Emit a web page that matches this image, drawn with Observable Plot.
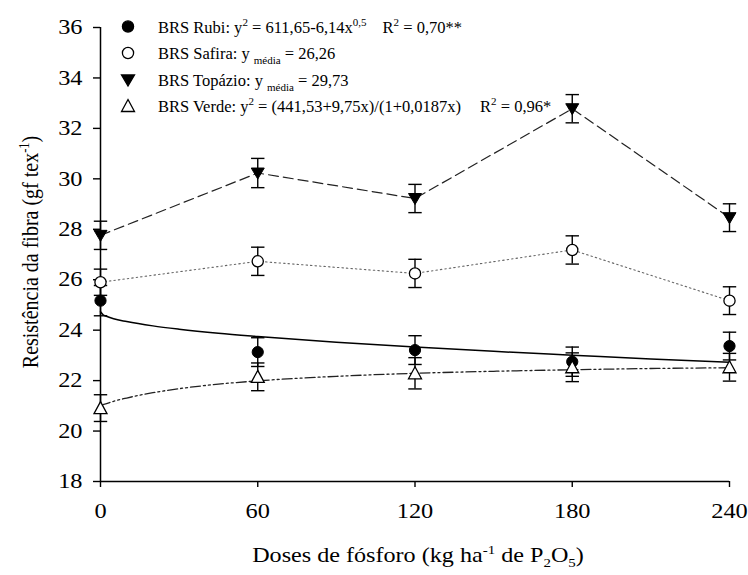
<!DOCTYPE html>
<html><head><meta charset="utf-8">
<script src="https://cdn.jsdelivr.net/npm/d3@7"></script>
<script src="https://cdn.jsdelivr.net/npm/@observablehq/plot@0.6"></script>
<style>body{margin:0;background:#fff} svg{display:block} svg text{font-family:"Liberation Serif","Times New Roman",serif !important}</style>
</head><body><div id="chart"></div>
<script>
// ---- data ----
const doses = [0, 60, 120, 180, 240];
const xTicks = [0, 60, 120, 180, 240];
const yTicks = [18, 20, 22, 24, 26, 28, 30, 32, 34, 36];

const rubi      = [25.17, 23.13, 23.21, 22.75, 23.37];
const rubiErr   = [0.60, 0.57, 0.57, 0.58, 0.55];
const safira    = [25.90, 26.73, 26.25, 27.18, 25.17];
const safiraErr = [0.52, 0.56, 0.56, 0.56, 0.55];
const topazio   = [27.76, 30.23, 29.22, 32.78, 28.46];
const topazioErr= [0.56, 0.58, 0.56, 0.56, 0.55];
const verde     = [20.91, 22.15, 22.29, 22.53, 22.53];
const verdeErr  = [0.53, 0.55, 0.62, 0.57, 0.55];

// fitted curves
const fitX     = [0, 1, 2, 5, 10, 20, 30, 45, 60, 90, 120, 150, 180, 210, 240];
const rubiFit  = [24.73, 24.61, 24.56, 24.45, 24.34, 24.17, 24.04, 23.88, 23.75, 23.52, 23.33, 23.16, 23.01, 22.86, 22.73];
const verdeFit = [21.01, 21.05, 21.08, 21.18, 21.31, 21.52, 21.68, 21.86, 21.99, 22.17, 22.29, 22.37, 22.43, 22.48, 22.51];

// ---- tables ----
function series(name, vals, errs) {
  return doses.map((d, i) => ({cultivar: name, dose: d, y: vals[i], lo: vals[i] - errs[i], hi: vals[i] + errs[i]}));
}
const sRubi = series("Rubi", rubi, rubiErr);
const sSafira = series("Safira", safira, safiraErr);
const sTopazio = series("Topázio", topazio, topazioErr);
const sVerde = series("Verde", verde, verdeErr);
const all = [...sRubi, ...sSafira, ...sTopazio, ...sVerde];
const fitRubi = fitX.map((x, i) => ({x, y: rubiFit[i]}));
const fitVerde = fitX.map((x, i) => ({x, y: verdeFit[i]}));

// ---- symbols ----
const capSym = {draw(c) { c.moveTo(-6.7, 0); c.lineTo(6.7, 0); }};
const downTri = {draw(c) { c.moveTo(-6.5, -5); c.lineTo(6.5, -5); c.lineTo(0, 6); c.closePath(); }};
const upTri = {draw(c) { c.moveTo(0, -6.5); c.lineTo(6.5, 5.5); c.lineTo(-6.5, 5.5); c.closePath(); }};
const circ = {draw(c) { c.moveTo(5.6, 0); c.arc(0, 0, 5.6, 0, 2 * Math.PI); }};

const plot = Plot.plot({
  width: 748, height: 575,
  marginLeft: 100, marginRight: 19, marginTop: 27, marginBottom: 94,
  style: {fontFamily: "'Liberation Serif', serif", fontSize: "21px", color: "black", background: "white"},
  x: {domain: [0, 240]},
  y: {domain: [18, 36]},
  marks: [
    Plot.axisY({ticks: yTicks, tickSize: 7, tickPadding: 11, label: null, fontSize: 21, strokeWidth: 1.4}),
    Plot.axisX({ticks: xTicks, tickSize: 6, tickPadding: 16, label: null, fontSize: 21, strokeWidth: 1.4}),
    Plot.ruleX([0], {stroke: "black", strokeWidth: 1.5}),
    Plot.ruleY([18], {stroke: "black", strokeWidth: 1.5}),
    // error bars
    Plot.ruleX(all, {x: "dose", y1: "lo", y2: "hi", stroke: "black", strokeWidth: 1.4}),
    Plot.dot(all, {x: "dose", y: "lo", symbol: capSym, stroke: "black", fill: "none", strokeWidth: 1.4}),
    Plot.dot(all, {x: "dose", y: "hi", symbol: capSym, stroke: "black", fill: "none", strokeWidth: 1.4}),
    // lines
    Plot.line(sTopazio, {x: "dose", y: "y", stroke: "#222", strokeWidth: 1.2, strokeDasharray: "10,5"}),
    Plot.line(sSafira, {x: "dose", y: "y", stroke: "#666", strokeWidth: 1.1, strokeDasharray: "1.5,3"}),
    Plot.line(fitRubi, {x: "x", y: "y", stroke: "black", strokeWidth: 1.5, curve: "monotone-x"}),
    Plot.line(fitVerde, {x: "x", y: "y", stroke: "#222", strokeWidth: 1.3, strokeDasharray: "10,3,2,3,2,3", curve: "monotone-x"}),
    // markers
    Plot.dot(sTopazio, {x: "dose", y: "y", symbol: downTri, fill: "black", stroke: "black", strokeWidth: 1}),
    Plot.dot(sSafira, {x: "dose", y: "y", symbol: circ, fill: "white", stroke: "black", strokeWidth: 1.3}),
    Plot.dot(sRubi, {x: "dose", y: "y", symbol: circ, fill: "black", stroke: "black", strokeWidth: 1}),
    Plot.dot(sVerde, {x: "dose", y: "y", symbol: upTri, fill: "white", stroke: "black", strokeWidth: 1.3})
  ]
});

document.getElementById("chart").appendChild(plot);

// widen the tick labels horizontally, as in the reference
d3.select(plot).selectAll("g[aria-label$='tick label'] text").each(function () {
  const t = this.getAttribute("transform") || "";
  this.setAttribute("transform", t + " scale(1.16,1)");
});

// ---- rich texts (legend, axis labels) ----
const svg = d3.select(plot);
function richText(sel, parts, baseSize, smallSize, shift) {
  let off = 0;
  for (const p of parts) {
    const target = p.sup ? -shift.sup : p.sub ? shift.sub : 0;
    const ts = sel.append("tspan").text(p.t)
      .attr("font-size", (p.sup || p.sub) ? smallSize : baseSize)
      .attr("dy", target - off);
    if (p.dx) ts.attr("dx", p.dx);
    off = target;
  }
}

const legendRows = [
  {sym: circ, fill: "black", parts: [{t: "BRS Rubi: y"}, {t: "2", sup: true}, {t: " = 611,65-6,14x"}, {t: "0,5", sup: true}, {t: "R", dx: 16}, {t: "2", sup: true}, {t: " = 0,70**"}]},
  {sym: circ, fill: "white", parts: [{t: "BRS Safira: y "}, {t: "média", sub: true}, {t: " = 26,26"}]},
  {sym: downTri, fill: "black", parts: [{t: "BRS Topázio: y "}, {t: "média", sub: true}, {t: " = 29,73"}]},
  {sym: upTri, fill: "white", parts: [{t: "BRS Verde: y"}, {t: "2", sup: true}, {t: " = (441,53+9,75x)/(1+0,0187x)"}, {t: "R", dx: 19}, {t: "2", sup: true}, {t: " = 0,96*"}]}
];
const legendY = [26.5, 53, 80, 106];
const lg = svg.append("g").attr("fill", "black").attr("text-anchor", "start");
legendRows.forEach((r, i) => {
  const p = d3.path(); r.sym.draw(p);
  lg.append("path").attr("d", p.toString()).attr("transform", `translate(128,${legendY[i]})`)
    .attr("fill", r.fill).attr("stroke", "black").attr("stroke-width", 1.3);
  const t = lg.append("text").attr("x", 158).attr("y", legendY[i] + 6).attr("text-anchor", "start");
  richText(t, r.parts, 16.5, 11, {sup: 7, sub: 5});
});

const xl = svg.append("text").attr("transform", "translate(418,562) scale(1.15,1)").attr("text-anchor", "middle").attr("fill", "black");
richText(xl, [{t: "Doses de fósforo (kg ha"}, {t: "-1", sup: true}, {t: " de P"}, {t: "2", sub: true}, {t: "O"}, {t: "5", sub: true}, {t: ")"}], 21, 13, {sup: 8, sub: 5});

const yl = svg.append("text").attr("transform", "translate(38,252) rotate(-90) scale(1,1.18)").attr("text-anchor", "middle").attr("fill", "black");
richText(yl, [{t: "Resistência da fibra (gf tex"}, {t: "-1", sup: true}, {t: ")"}], 20, 12.5, {sup: 8, sub: 5});
</script>
</body></html>
